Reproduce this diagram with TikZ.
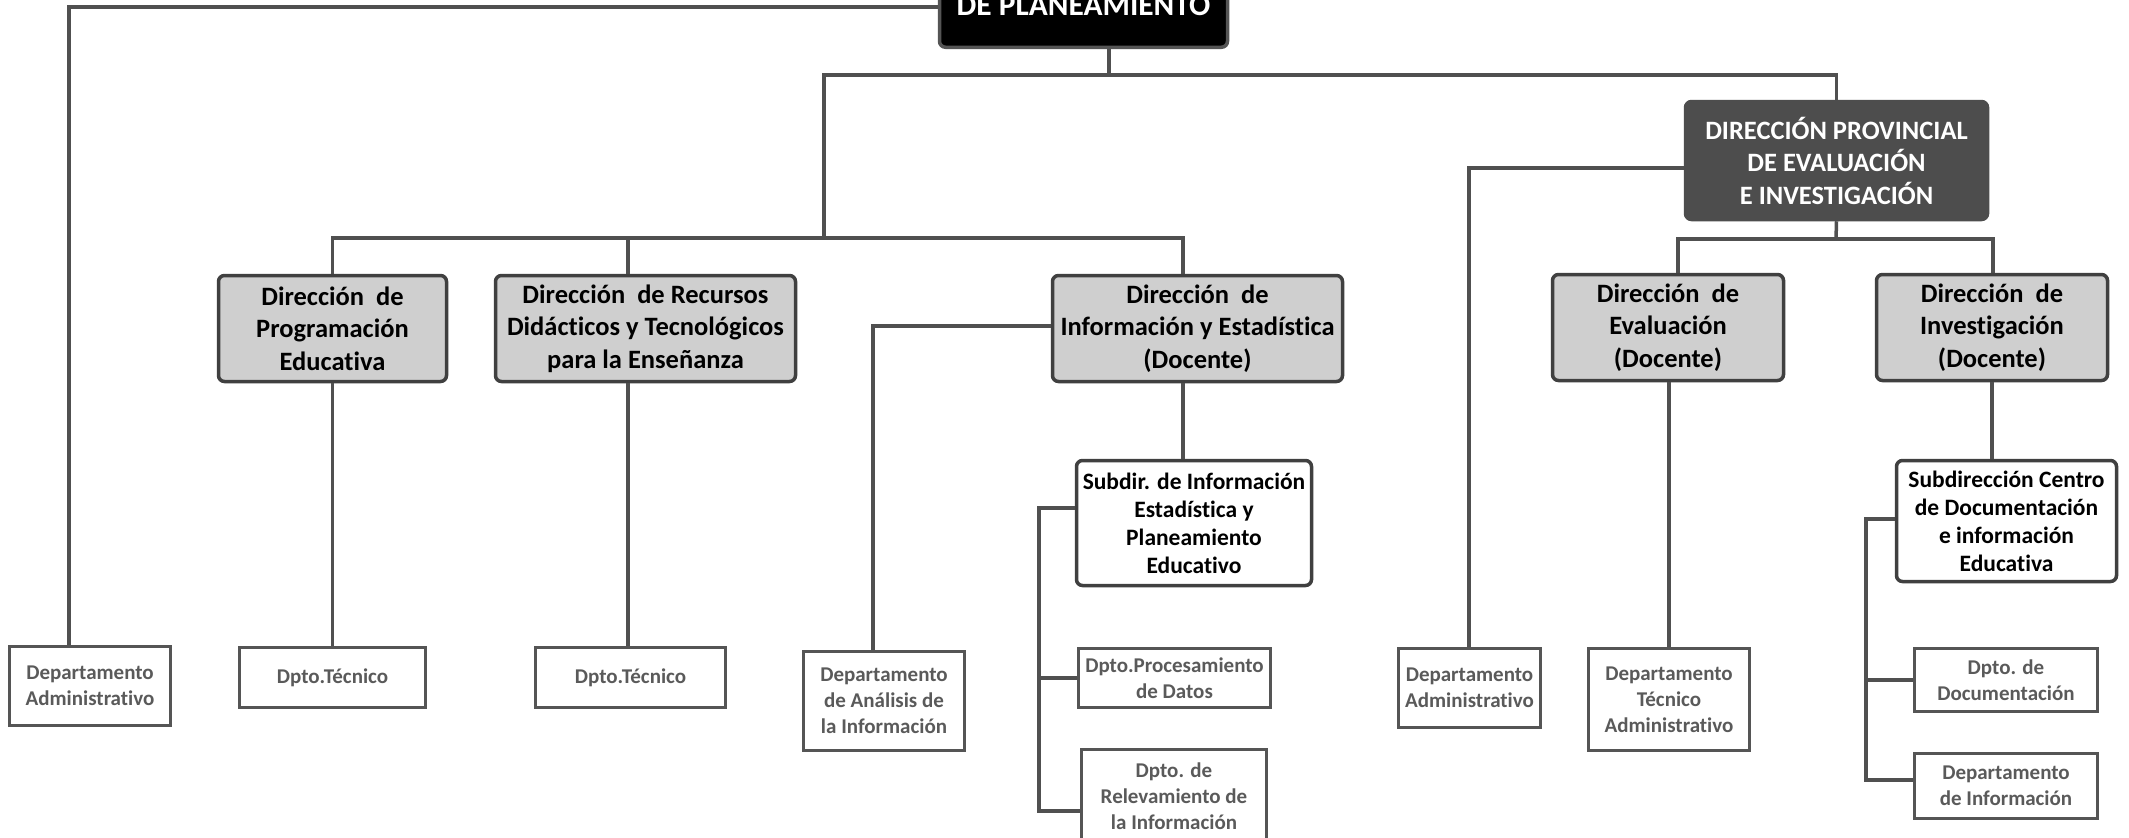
\documentclass[tikz,border=0pt]{standalone}
\usepackage{fontspec}
\setmainfont{Carlito}[Ligatures=NoCommon]
\definecolor{linecol}{HTML}{505050}
\definecolor{gborder}{HTML}{404040}
\definecolor{gfill}{HTML}{CFCFCF}
\definecolor{darkfill}{HTML}{4D4D4D}
\definecolor{stext}{HTML}{5A5A5A}
\definecolor{sborder}{HTML}{555555}
\tikzset{
  conn/.style={draw=linecol, line width=3.5pt},
  gbox/.style={draw=gborder, fill=gfill, line width=3.5pt, rounded corners=6pt, align=center, inner sep=0pt,
    font=\bfseries\fontsize{26.5}{32.5}\selectfont},
  dbox/.style={gbox, fill=darkfill, text=white, draw=darkfill},
  kbox/.style={gbox, fill=black, text=white, draw=sborder, font=\bfseries\fontsize{31.4}{36}\selectfont},
  wbox/.style={gbox, fill=white, font=\bfseries\fontsize{23.5}{28}\selectfont},
  sbox/.style={draw=sborder, fill=white, line width=3pt, align=center, inner sep=0pt, text=stext,
    font=\bfseries\fontsize{21}{25.8}\selectfont},
}
\begin{document}
\begin{tikzpicture}[x=1pt,y=-1pt]
\useasboundingbox (0,0) rectangle (2129,838);
\clip (0,0) rectangle (2129,838);
\fill[white] (0,0) rectangle (2129,838);

% boxes
\node[kbox, anchor=south, minimum width=288, inner ysep=31.5pt] (top) at (1083.5,49) {DE PLANEAMIENTO};
\node[gbox, minimum width=228, minimum height=106] (prog) at (332.5,328.5) {Dirección~ de\\Programación\\Educativa};
\node[gbox, minimum width=300, minimum height=106] (rec) at (645.5,328.5) {Dirección~ de Recursos\\Didácticos y Tecnológicos\\para la Enseñanza};
\node[gbox, minimum width=290, minimum height=106] (info) at (1197.5,328.5) {Dirección~ de\\Información y Estadística\\(Docente)};
\node[dbox, minimum width=302, minimum height=118] (dpei) at (1836.5,160.5) {DIRECCIÓN PROVINCIAL\\DE EVALUACIÓN\\E INVESTIGACIÓN};
\node[gbox, minimum width=231, minimum height=106] (eval) at (1668,327.5) {Dirección~ de\\Evaluación\\(Docente)};
\node[gbox, minimum width=231, minimum height=106] (inv) at (1992,327.5) {Dirección~ de\\Investigación\\(Docente)};
\node[wbox, minimum width=235, minimum height=125] (subinfo) at (1194,523) {Subdir. de Información\\Estadística y\\Planeamiento\\Educativo};
\node[wbox, minimum width=220, minimum height=121] (subcen) at (2006.5,521) {Subdirección Centro\\de Documentación\\e información\\Educativa};

\node[sbox, minimum width=161, minimum height=79] (admL) at (90,686) {Departamento\\Administrativo};
\node[sbox, minimum width=186, minimum height=60] (tec1) at (332.5,677.5) {Dpto.Técnico};
\node[sbox, minimum width=190, minimum height=60] (tec2) at (630.5,677.5) {Dpto.Técnico};
\node[sbox, minimum width=161, minimum height=99] (ana) at (884,701) {Departamento\\de Análisis de\\la Información};
\node[sbox, minimum width=192, minimum height=59] (proc) at (1174.5,678) {Dpto.Procesamiento\\de Datos};
\node[sbox, minimum width=185, anchor=north, inner ysep=14pt] (rel) at (1174,747.5) {Dpto. de\\Relevamiento de\\la Información};
\node[sbox, minimum width=142, minimum height=79] (admR) at (1469.5,688) {Departamento\\Administrativo};
\node[sbox, minimum width=161, minimum height=102] (tadm) at (1669,699.5) {Departamento\\Técnico\\Administrativo};
\node[sbox, minimum width=183, minimum height=63] (doc) at (2006,680) {Dpto. de\\Documentación};
\node[sbox, minimum width=183, minimum height=65] (dinf) at (2006,786) {Departamento\\de Información};

% junctions
\coordinate (j1) at (1109,75);
\coordinate (j2) at (824,238);
\coordinate (j3) at (1836,239);
\coordinate (k1) at (1039,811);
\coordinate (k2) at (1866,780);

% connectors
\draw[conn] (top.west |- 0,7) -| (admL.north -| 69,0);
\draw[conn] (top.south -| j1) -- (j1);
\draw[conn] (j2) |- (dpei.north |- j1) -- (dpei.north);
\draw[conn] (prog.north) |- (j2);
\draw[conn] (rec.north -| 628,0) -- (628,238);
\draw[conn] (j2) -| (info.north -| 1183,0);
\draw[conn] (info.west |- 0,326) -| (ana.north -| 873,0);
\draw[conn] (info.south -| 1183,0) -- (subinfo.north -| 1183,0);
\draw[conn] (subinfo.west |- 0,508) -| (k1) -- (rel.west |- k1);
\draw[conn] (k1 |- proc.west) -- (proc.west);
\draw[conn] (prog.south) -- (tec1.north -| prog.south);
\draw[conn] (rec.south -| 628,0) -- (tec2.north -| 628,0);
\draw[conn] (dpei.west |- 0,168) -| (admR.north -| 1469,0);
\draw[conn] (dpei.south) -- (j3);
\draw[conn] (eval.north -| 1678,0) |- (j3) -| (inv.north -| 1993,0);
\draw[conn] (eval.south -| 1669,0) -- (tadm.north -| 1669,0);
\draw[conn] (inv.south -| 1992,0) -- (subcen.north -| 1992,0);
\draw[conn] (subcen.west |- 0,519) -| (k2) -- (dinf.west |- k2);
\draw[conn] (k2 |- doc.west) -- (doc.west);
\end{tikzpicture}
\end{document}
